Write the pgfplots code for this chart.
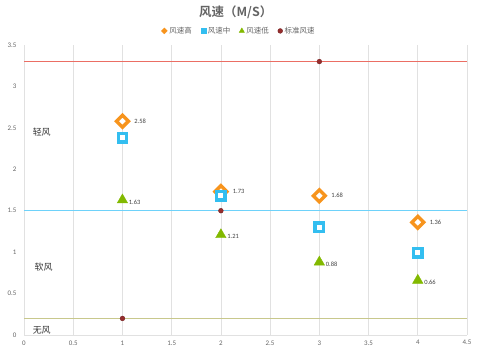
\documentclass[border=0pt]{standalone}
\usepackage{pgfplots}
\pgfplotsset{compat=1.18}
\usepackage{fontspec}
\setmainfont{Carlito}
\newfontfamily\cjk{Noto Sans CJK SC}
\newfontfamily\cjkb{Noto Sans CJK SC Bold}
\definecolor{cHigh}{RGB}{247,148,29}
\definecolor{cMid}{RGB}{51,190,240}
\definecolor{cLow}{RGB}{130,185,0}
\definecolor{cStd}{RGB}{150,45,45}
\definecolor{stdline}{RGB}{235,110,100}
\definecolor{lineBlue}{RGB}{110,210,250}
\definecolor{lineOlive}{RGB}{200,200,140}
\definecolor{tickc}{RGB}{100,100,100}
\definecolor{gridc}{RGB}{225,225,225}
\begin{document}
\begin{tikzpicture}
\useasboundingbox (-24bp,-19bp) rectangle (454bp,335bp);
\begin{axis}[
  at={(0,0)}, anchor=south west,
  scale only axis, width=443bp, height=290bp,
  xmin=0, xmax=4.5, ymin=0, ymax=3.5,
  xtick={0,0.5,...,4.5}, ytick={0,0.5,...,3.5},
  axis x line=bottom, axis y line=left,
  axis line style={gridc, -},
  xmajorgrids, grid style={gridc, line width=0.6pt},
  major tick length=0pt,
  tick label style={font=\fontsize{7}{8}\selectfont, text=tickc},
  /pgf/number format/assume math mode=true,
  xticklabel style={yshift=-2bp},
  yticklabel style={xshift=-4bp},
  legend columns=4,
  legend style={at={(0.485,1)}, anchor=south, yshift=6bp, draw=none, fill=none,
    font=\cjk\fontsize{7.5}{8}\selectfont, text=tickc,
    /tikz/every even column/.append style={column sep=7bp}},
  legend image code/.code={\draw[#1] plot coordinates {(0.1cm,0cm)};},
  clip=false,
]
\addplot[draw=stdline, line width=1.2pt, forget plot] coordinates {(0,3.3) (4.5,3.3)};
\addplot[draw=lineBlue, line width=0.9pt, forget plot] coordinates {(0,1.5) (4.5,1.5)};
\addplot[draw=lineOlive, line width=0.9pt, forget plot] coordinates {(0,0.2) (4.5,0.2)};
\addplot[only marks, mark=square*, mark size=4.2bp, line width=3.4pt, draw=cHigh, fill=white,
  mark options={rotate=45},
  legend image post style={mark size=2.2bp, line width=0.1pt, fill=cHigh},
  nodes near coords={\pgfmathprintnumber[fixed,precision=2,fixed zerofill]{\pgfplotspointmeta}},
  nodes near coords style={anchor=west, xshift=7bp, font=\fontsize{6.5}{7}\selectfont, text=black!75}]
  coordinates {(1,2.58) (2,1.73) (3,1.68) (4,1.36)};
\addlegendentry{风速高}
\addplot[only marks, mark=square*, mark size=4.2bp, line width=3.4pt, draw=cMid, fill=white,
  legend image post style={mark size=2.5bp, line width=0.1pt, fill=cMid}]
  coordinates {(1,2.38) (2,1.68) (3,1.30) (4,0.99)};
\addlegendentry{风速中}
\addplot[only marks, mark=triangle*, mark size=6bp, draw=cLow, fill=cLow,
  legend image post style={mark size=3bp},
  nodes near coords={\pgfmathprintnumber[fixed,precision=2,fixed zerofill]{\pgfplotspointmeta}},
  nodes near coords style={anchor=west, xshift=3bp, yshift=-2bp, font=\fontsize{6.5}{7}\selectfont, text=black!75}]
  coordinates {(1,1.63) (2,1.21) (3,0.88) (4,0.66)};
\addlegendentry{风速低}
\addplot[only marks, mark=*, mark size=2.4bp, draw=cStd!80!black, fill=cStd,
  legend image post style={mark size=2.4bp}]
  coordinates {(1,0.2) (2,1.5) (3,3.3)};
\addlegendentry{标准风速}
\node[font=\cjk\fontsize{9}{10}\selectfont, text=black!80] at (axis cs:0.18,2.45) {轻风};
\node[font=\cjk\fontsize{9}{10}\selectfont, text=black!80] at (axis cs:0.2,0.82) {软风};
\node[font=\cjk\fontsize{9}{10}\selectfont, text=black!80] at (axis cs:0.18,0.06) {无风};
\node[font=\cjkb\fontsize{12.5}{14}\selectfont, text=tickc] at (axis description cs:0.478,1) [yshift=33bp] {风速（M/S）};
\end{axis}
\end{tikzpicture}
\end{document}
